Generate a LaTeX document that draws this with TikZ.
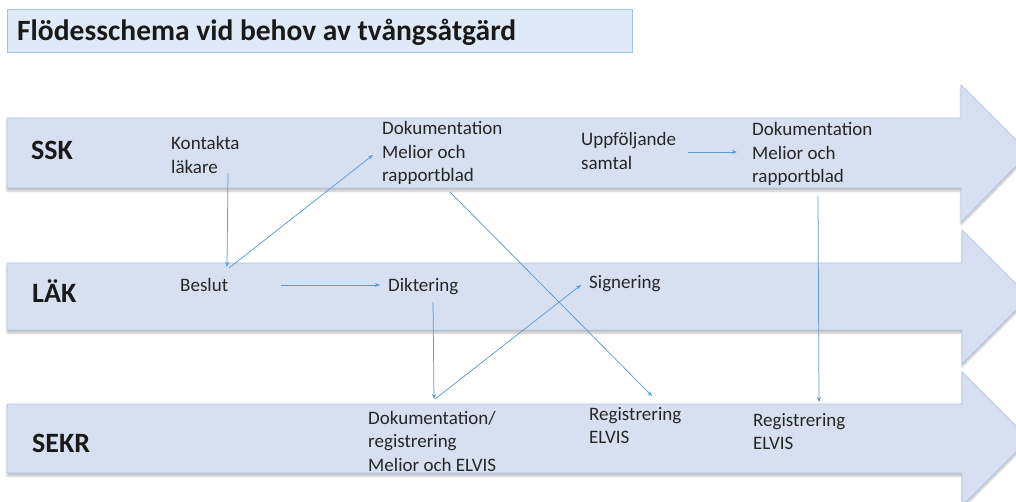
\documentclass[tikz,border=0pt]{standalone}
\usepackage{fontspec}
\setmainfont{Carlito}
\usetikzlibrary{calc,arrows.meta,shadows.blur}
\definecolor{bandfill}{HTML}{D7E0F1}
\definecolor{banddraw}{HTML}{B4C6E2}
\definecolor{titlefill}{HTML}{DEEAF7}
\definecolor{titledraw}{HTML}{9DC3E6}
\definecolor{linkblue}{HTML}{5B9BD5}
\definecolor{txt}{HTML}{262626}
\tikzset{
  band/.style={fill=bandfill,draw=banddraw,line width=0.8pt,
    blur shadow={shadow xshift=0pt,shadow yshift=-3pt,shadow blur steps=6,shadow opacity=25}},
  lanelabel/.style={anchor=base west,inner sep=0pt,font=\fontsize{28}{32}\selectfont\bfseries,text=black!90},
  txtnode/.style={anchor=base west,inner sep=0pt,align=left,font=\fontsize{19}{23.5}\selectfont,text=txt},
  link/.style={draw=linkblue,line width=0.75pt,-{Stealth[length=5pt,width=4pt]}}
}
\begin{document}
\begin{tikzpicture}[x=1pt,y=-1pt]
\useasboundingbox (0,0) rectangle (1016,502);
\clip (0,0) rectangle (1016,502);
% title
\node[draw=titledraw,fill=titlefill,line width=0.8pt,anchor=north west,minimum width=625pt,minimum height=43pt,inner sep=0pt] (titlebox) at (7,9.5) {};
\node[anchor=base west,inner sep=0pt,font=\fontsize{29.5}{33}\selectfont\bfseries,text=black!90] (title) at (17,41) {Flödesschema vid behov av tvångsåtgärd};
% bands
\path[band] (7,118) -- (961,118) -- (961,85) -- (1029,153) -- (961,222) -- (961,188) -- (7,188) -- cycle;
\path[band] (7,263) -- (962,263) -- (962,230) -- (1029,297) -- (962,364) -- (962,330) -- (7,330) -- cycle;
\path[band] (7,404) -- (962,404) -- (962,372) -- (1029,439) -- (962,506) -- (962,473) -- (7,473) -- cycle;
% lane labels
\node[lanelabel] (ssk) at (31,160) {SSK};
\node[lanelabel] (lak) at (32,302) {LÄK};
\node[lanelabel] (sekr) at (32,452) {SEKR};
% texts (anchored at the baseline of their last line)
\node[txtnode] (kontakta) at (171,173.5) {Kontakta\\läkare};
\node[txtnode] (dok1) at (382,182) {Dokumentation\\Melior och\\rapportblad};
\node[txtnode] (uppf) at (581,169.5) {Uppföljande\\samtal};
\node[txtnode] (dok2) at (752,183) {Dokumentation\\Melior och\\rapportblad};
\node[txtnode] (beslut) at (180,291) {Beslut};
\node[txtnode] (dikt) at (388,291) {Diktering};
\node[txtnode] (sign) at (589,289) {Signering};
\node[txtnode] (sekrdok) at (368,471) {Dokumentation/\\registrering\\Melior och ELVIS};
\node[txtnode] (reg1) at (589,443.5) {Registrering\\ELVIS};
\node[txtnode] (reg2) at (753,449.5) {Registrering\\ELVIS};
% connectors
\draw[link] ($(kontakta.base west)+(57,-0.5)$) -- ($(beslut.base west)+(47,-24)$);
\draw[link] ($(beslut.base west)+(49,-23)$) -- ($(dok1.base west)+(-9,-27)$);
\draw[link] ($(beslut.base west)+(101,-6)$) -- ($(dikt.base west)+(-8,-6)$);
\draw[link] ($(dikt.base west)+(45,11)$) -- ($(sekrdok.base west)+(66,-72)$);
\draw[link] ($(sekrdok.base west)+(67,-72)$) -- ($(sign.base west)+(-8,-4)$);
\draw[link] ($(dok1.base west)+(68,10)$) -- ($(reg1.base west)+(63,-47.5)$);
\draw[link] ($(uppf.base west)+(107,-17.5)$) -- ($(dok2.base west)+(-15,-31)$);
\draw[link] ($(dok2.base west)+(66,13)$) -- ($(reg2.base west)+(66,-47.5)$);
\end{tikzpicture}
\end{document}
